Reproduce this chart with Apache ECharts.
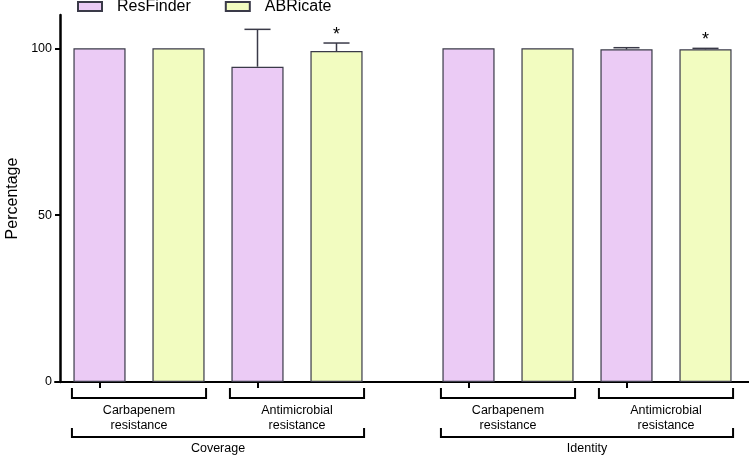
<!DOCTYPE html>
<html>
<head>
<meta charset="utf-8">
<script src="https://cdn.jsdelivr.net/npm/echarts@6/dist/echarts.min.js"></script>
<style>html,body{margin:0;padding:0;background:#fff}#c{width:749px;height:455px}</style>
</head>
<body>
<div id="c"></div>
<script>
// ---- data ----
const groups = ['Coverage', 'Identity'];
const subCategories = ['Carbapenem\nresistance', 'Antimicrobial\nresistance'];
const tools = ['ResFinder', 'ABRicate'];
const yTicks = [0, 50, 100];

// values per sub-category: [Carbapenem resistance, Antimicrobial resistance]
const coverageResFinder = [100, 94.5];
const coverageResFinderSD = [0, 11.2];
const coverageABRicate = [100, 99.2];
const coverageABRicateSD = [0, 2.4];
const identityResFinder = [100, 99.7];
const identityResFinderSD = [0, 0.5];
const identityABRicate = [100, 99.7];
const identityABRicateSD = [0, 0.3];
const coverageStars = [false, true];   // significance mark above ABRicate
const identityStars = [false, true];

const groupData = [
  { res: coverageResFinder, resSD: coverageResFinderSD, abr: coverageABRicate, abrSD: coverageABRicateSD, stars: coverageStars },
  { res: identityResFinder, resSD: identityResFinderSD, abr: identityABRicate, abrSD: identityABRicateSD, stars: identityStars }
];

const colors = { ResFinder: '#ebcbf5', ABRicate: '#f2fcc0' };
const FONT = 'Liberation Sans, Arial, sans-serif';

// ---- build option ----
const grids = [
  { left: 60, width: 316, top: 15, bottom: 73 },
  { left: 429, width: 316, top: 15, bottom: 73 },
  { left: 55, right: 0, top: 15, bottom: 73 }  // baseline axis spanning both panels
];
const xAxes = [], yAxes = [], series = [];

groups.forEach((g, gi) => {
  const barCats = [];
  subCategories.forEach(s => tools.forEach(t => barCats.push(s + '|' + t)));
  // bar axis (one slot per bar, ticks at bar centres)
  xAxes.push({
    type: 'category', gridIndex: gi, data: barCats, position: 'bottom',
    axisLine: { show: false },
    axisTick: { show: true, alignWithLabel: true, length: 6, lineStyle: { color: '#000', width: 2 } },
    axisLabel: { show: false }
  });
  // sub-category labels
  xAxes.push({
    type: 'category', gridIndex: gi, data: subCategories, position: 'bottom',
    axisLine: { show: false }, axisTick: { show: false },
    axisLabel: { show: true, margin: 21, fontSize: 12.5, lineHeight: 15, color: '#000', fontFamily: FONT, interval: 0 }
  });
  // group label
  xAxes.push({
    type: 'category', gridIndex: gi, data: [g], position: 'bottom',
    axisLine: { show: false }, axisTick: { show: false },
    axisLabel: { show: true, margin: 60, fontSize: 12.5, color: '#000', fontFamily: FONT }
  });
  yAxes.push({
    type: 'value', gridIndex: gi, min: 0, max: 110, interval: 50,
    show: gi === 0,
    name: gi === 0 ? 'Percentage' : '', nameLocation: 'middle', nameGap: 39,
    nameTextStyle: { fontSize: 16, color: '#000', fontFamily: FONT },
    axisLine: { show: true, lineStyle: { color: '#000', width: 2.5 } },
    axisTick: { show: true, length: 5, customValues: yTicks, lineStyle: { color: '#000', width: 2 } },
    axisLabel: { show: true, customValues: yTicks, fontSize: 12.5, color: '#000', fontFamily: FONT, margin: 8 },
    splitLine: { show: false }
  });

  const d = groupData[gi];
  const xIdx = gi * 3;
  const resBars = [], abrBars = [], resErr = [], abrErr = [];
  subCategories.forEach((s, si) => {
    resBars.push(d.res[si], '-');
    abrBars.push('-', d.abr[si]);
    resErr.push([si * 2, d.res[si], d.resSD[si], 0]);
    abrErr.push([si * 2 + 1, d.abr[si], d.abrSD[si], d.stars[si] ? 1 : 0]);
  });
  [['ResFinder', resBars], ['ABRicate', abrBars]].forEach(([name, data]) => {
    series.push({
      type: 'bar', name, xAxisIndex: xIdx, yAxisIndex: gi, data,
      barGap: '-100%', barCategoryGap: '34%',
      itemStyle: { color: colors[name], borderColor: '#3a3a48', borderWidth: 1.2 },
      emphasis: { disabled: true }, animation: false
    });
  });
  [resErr, abrErr].forEach(errData => {
    series.push({
      type: 'custom', xAxisIndex: xIdx, yAxisIndex: gi, data: errData, clip: false, animation: false,
      encode: { x: 0, y: 1 }, silent: true,
      renderItem(params, api) {
        const x = api.value(0), m = api.value(1), sd = api.value(2), star = api.value(3);
        const children = [];
        const slot = api.size([1, 0])[0];
        const half = slot * 0.66 / 4;
        const base = api.coord([x, m]);
        const top = api.coord([x, m + sd]);
        if (sd > 0) {
          children.push({ type: 'line', shape: { x1: base[0], y1: base[1], x2: top[0], y2: top[1] }, style: { stroke: '#3a3a48', lineWidth: 1.5 } });
          children.push({ type: 'line', shape: { x1: top[0] - half, y1: top[1], x2: top[0] + half, y2: top[1] }, style: { stroke: '#3a3a48', lineWidth: 1.5 } });
        }
        if (star) {
          children.push({ type: 'text', x: top[0], y: top[1] + 1, style: { text: '*', fontSize: 18, fontFamily: FONT, fill: '#000', align: 'center', verticalAlign: 'bottom' } });
        }
        return { type: 'group', children };
      }
    });
  });
  // brackets under the axis: [first bar index, last bar index, level]
  const brackets = [[0, 1, 0], [2, 3, 0], [0, 3, 1]];
  series.push({
    type: 'custom', xAxisIndex: xIdx, yAxisIndex: gi, data: brackets, clip: false, animation: false, silent: true,
    encode: { x: 0, y: 2 },
    renderItem(params, api) {
      const a = api.value(0), b = api.value(1), lvl = api.value(2);
      const slot = api.size([1, 0])[0];
      const hw = slot * 0.33 + 1.5;
      const p0 = api.coord([a, 0]), p1 = api.coord([b, 0]);
      const yLine = p0[1] + (lvl === 0 ? 16 : 55);
      const yTop = p0[1] + (lvl === 0 ? 6 : 46);
      return {
        type: 'polyline',
        shape: { points: [[p0[0] - hw, yTop], [p0[0] - hw, yLine], [p1[0] + hw, yLine], [p1[0] + hw, yTop]] },
        style: { stroke: '#000', lineWidth: 2, fill: null }
      };
    }
  });
});

// baseline axis across both panels
xAxes.push({
  type: 'value', gridIndex: 2, min: 0, max: 1, show: true,
  axisLine: { show: true, onZero: false, lineStyle: { color: '#000', width: 2 } },
  axisTick: { show: false }, axisLabel: { show: false }, splitLine: { show: false }
});
yAxes.push({ type: 'value', gridIndex: 2, min: 0, max: 1, show: false });

const option = {
  animation: false,
  textStyle: { fontFamily: FONT },
  legend: {
    data: tools, left: 77, top: -1.5, padding: 0, itemGap: 34,
    itemWidth: 24, itemHeight: 9, icon: 'rect',
    textStyle: { fontSize: 16, color: '#000', fontFamily: FONT, padding: [0, 0, 0, 10] }
  },
  grid: grids,
  xAxis: xAxes,
  yAxis: yAxes,
  series
};
echarts.init(document.getElementById('c')).setOption(option);
</script>
</body>
</html>
